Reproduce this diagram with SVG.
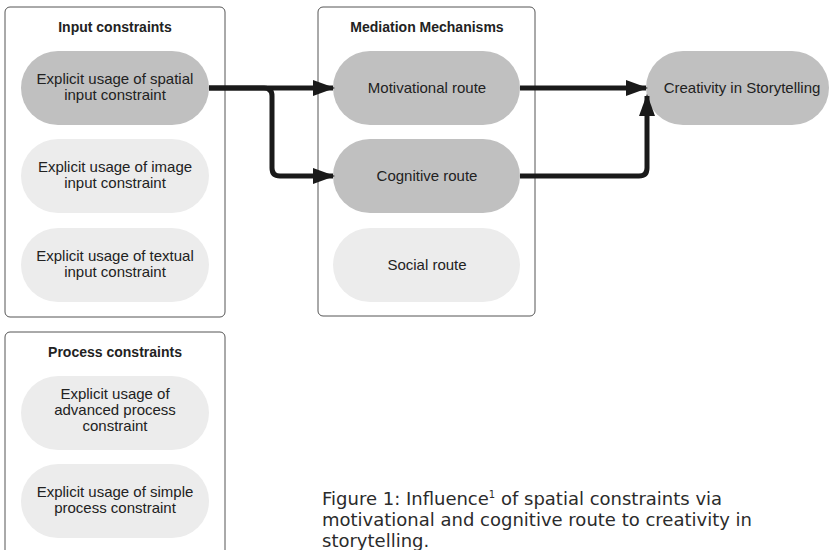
<svg xmlns="http://www.w3.org/2000/svg" width="829" height="550" viewBox="0 0 829 550">
<style>
.box{fill:#fff;stroke:#555;stroke-width:1}
.title{font-family:"Liberation Sans",Arial,sans-serif;font-size:14px;font-weight:bold;fill:#222;text-anchor:middle}
.lbl{font-family:"Liberation Sans",Arial,sans-serif;font-size:15px;fill:#222;text-anchor:middle}
.dark{fill:#c0c0c0}
.light{fill:#ececec}
.edge{fill:none;stroke:#1a1a1a;stroke-width:5;stroke-linejoin:round}
.cap{font-family:"DejaVu Sans",sans-serif;font-size:18px;fill:#2b2b2b}
</style>
<defs>
<marker id="ah" markerUnits="userSpaceOnUse" markerWidth="22" markerHeight="16" refX="20" refY="8" orient="auto">
<path d="M0,0 L22,8 L0,16 z" fill="#1a1a1a"/>
</marker>
</defs>
<g id="input-constraints">
<rect class="box" x="5" y="7" width="220" height="310" rx="5"/>
<text class="title" x="115" y="32">Input constraints</text>
</g>
<g id="mediation-mechanisms">
<rect class="box" x="318" y="7" width="217" height="309" rx="5"/>
<text class="title" x="427" y="32">Mediation Mechanisms</text>
</g>
<g id="process-constraints">
<rect class="box" x="5" y="332" width="220" height="230" rx="5"/>
<text class="title" x="115" y="357">Process constraints</text>
</g>
<g id="spatial">
<rect class="dark" x="21" y="51" width="188" height="74" rx="37"/>
<text class="lbl" x="115" y="84">Explicit usage of spatial</text>
<text class="lbl" x="115" y="100">input constraint</text>
</g>
<g id="image">
<rect class="light" x="21" y="139" width="188" height="74" rx="37"/>
<text class="lbl" x="115" y="172">Explicit usage of image</text>
<text class="lbl" x="115" y="188">input constraint</text>
</g>
<g id="textual">
<rect class="light" x="21" y="228" width="188" height="74" rx="37"/>
<text class="lbl" x="115" y="261">Explicit usage of textual</text>
<text class="lbl" x="115" y="277">input constraint</text>
</g>
<g id="motivational">
<rect class="dark" x="333" y="51" width="187" height="74" rx="37"/>
<text class="lbl" x="427" y="93">Motivational route</text>
</g>
<g id="cognitive">
<rect class="dark" x="333" y="139" width="187" height="74" rx="37"/>
<text class="lbl" x="427" y="181">Cognitive route</text>
</g>
<g id="social">
<rect class="light" x="333" y="228" width="187" height="74" rx="37"/>
<text class="lbl" x="427" y="270">Social route</text>
</g>
<g id="creativity">
<rect class="dark" x="646" y="51" width="183" height="74" rx="37"/>
<text class="lbl" x="742" y="93">Creativity in Storytelling</text>
</g>
<g id="advanced">
<rect class="light" x="21" y="376" width="188" height="74" rx="37"/>
<text class="lbl" x="115" y="399">Explicit usage of</text>
<text class="lbl" x="115" y="415">advanced process</text>
<text class="lbl" x="115" y="431">constraint</text>
</g>
<g id="simple">
<rect class="light" x="21" y="464" width="188" height="74" rx="37"/>
<text class="lbl" x="115" y="497">Explicit usage of simple</text>
<text class="lbl" x="115" y="513">process constraint</text>
</g>
<g id="connectors">
<path class="edge" d="M209,88 L333,88" marker-end="url(#ah)"/>
<path class="edge" d="M209,88 L264,88 Q272,88 272,96 L272,168 Q272,176 280,176 L333,176" marker-end="url(#ah)"/>
<path class="edge" d="M520,88 L646,88" marker-end="url(#ah)"/>
<path class="edge" d="M520,176 L639,176 Q647,176 647,168 L647,96" marker-end="url(#ah)"/>
</g>
<g id="caption">
<text class="cap" x="322" y="505">Figure 1: Influence<tspan font-size="10" dy="-7">1</tspan><tspan dy="7"> of spatial constraints via</tspan></text>
<text class="cap" x="322" y="526">motivational and cognitive route to creativity in</text>
<text class="cap" x="322" y="547">storytelling.</text>
</g>
</svg>
